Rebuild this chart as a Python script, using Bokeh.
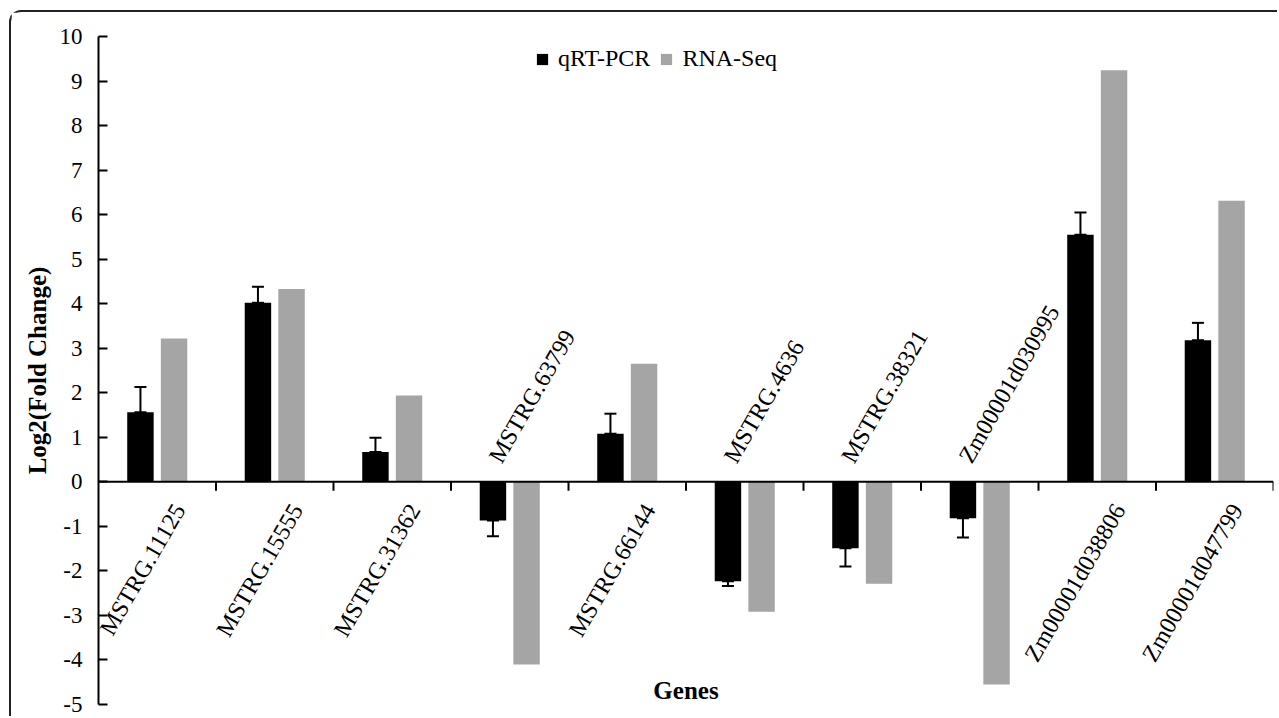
import math
from bokeh.plotting import figure
from bokeh.models import (Range1d, FixedTicker, Span, Whisker, TeeHead, ColumnDataSource,
                          Legend, LegendItem, Label)
from bokeh.embed import file_html
from bokeh.resources import INLINE

# ---- data ----
genes = ["MSTRG.11125", "MSTRG.15555", "MSTRG.31362", "MSTRG.63799", "MSTRG.66144",
         "MSTRG.4636", "MSTRG.38321", "Zm00001d030995", "Zm00001d038806", "Zm00001d047799"]
qrt = [1.56, 4.02, 0.67, -0.87, 1.08, -2.23, -1.49, -0.82, 5.55, 3.18]
qrt_err = [0.57, 0.36, 0.32, 0.35, 0.45, 0.11, 0.41, 0.43, 0.50, 0.39]
rnaseq = [3.22, 4.33, 1.94, -4.10, 2.65, -2.92, -2.29, -4.55, 9.24, 6.31]
y_ticks = list(range(-5, 11))
y_tick_labels = [str(t) for t in y_ticks]
series_names = ["qRT-PCR", "RNA-Seq"]
x_title = "Genes"
y_title = "Log2(Fold Change)"

FONT = "Liberation Serif"
GRAY = "#a5a5a5"
n = len(genes)
centers = [i + 0.5 for i in range(n)]
off = 0.143
bw = 0.225

p = figure(width=1268, height=706, output_backend="svg", toolbar_location=None,
           x_range=Range1d(0, n), y_range=Range1d(-5, 10),
           x_axis_location=None,
           min_border_left=87, min_border_top=24, min_border_bottom=14, min_border_right=6)
p.styles = {"border-top": "2px solid #222222", "border-left": "2px solid #222222",
            "border-top-left-radius": "12px", "margin-top": "10px", "margin-left": "9px"}
p.outline_line_color = None
p.xgrid.visible = False
p.ygrid.visible = False
p.background_fill_color = "white"

src = ColumnDataSource(dict(
    xq=[c - off for c in centers], xr=[c + off for c in centers],
    qrt=qrt, rna=rnaseq,
    up=[v + e if v >= 0 else v for v, e in zip(qrt, qrt_err)],
    lo=[v if v >= 0 else v - e for v, e in zip(qrt, qrt_err)],
))

r1 = p.vbar(x="xq", top="qrt", bottom=0, width=bw, source=src, fill_color="black", line_color=None)
r2 = p.vbar(x="xr", top="rna", bottom=0, width=bw, source=src, fill_color=GRAY, line_color=None)

wh = Whisker(source=src, base="xq", upper="up", lower="lo", line_width=2, line_color="black",
             upper_head=TeeHead(size=12, line_width=2, line_color="black"),
             lower_head=TeeHead(size=12, line_width=2, line_color="black"))
p.add_layout(wh)

# zero axis line + category ticks
p.add_layout(Span(location=0, dimension="width", line_color="black", line_width=2))
p.segment(x0=list(range(1, n + 1)), y0=[0] * n, x1=list(range(1, n + 1)), y1=[-0.2] * n,
          line_color="black", line_width=2)

# category labels
pos_idx = [i for i in range(n) if qrt[i] >= 0]
neg_idx = [i for i in range(n) if qrt[i] < 0]
p.text(x=[centers[i] for i in pos_idx], y=[0] * len(pos_idx), text=[genes[i] for i in pos_idx],
       angle=math.radians(60), text_align="right", text_baseline="middle",
       x_offset=22, y_offset=24, text_font={"value": FONT}, text_font_size="24px", text_color="black")
p.text(x=[centers[i] for i in neg_idx], y=[0] * len(neg_idx), text=[genes[i] for i in neg_idx],
       angle=math.radians(60), text_align="left", text_baseline="middle",
       x_offset=-15, y_offset=-21, text_font={"value": FONT}, text_font_size="24px", text_color="black")

# y axis
ax = p.yaxis[0]
ax.ticker = FixedTicker(ticks=y_ticks)
ax.major_label_overrides = dict(zip(y_ticks, y_tick_labels))
ax.major_tick_in = 9
ax.major_tick_out = 0
ax.minor_tick_line_color = None
ax.axis_line_width = 2
ax.major_tick_line_width = 2
ax.axis_line_color = "black"
ax.major_tick_line_color = "black"
ax.major_label_text_font = FONT
ax.major_label_text_font_size = "23px"
ax.major_label_text_color = "black"
ax.major_label_standoff = 16
ax.axis_label = y_title
ax.axis_label_text_font = FONT
ax.axis_label_text_font_style = "bold"
ax.axis_label_text_font_size = "25px"
ax.axis_label_text_color = "black"
ax.axis_label_standoff = 6

p.add_layout(Label(x=n / 2, y=-4.68, text=x_title, text_align="center", text_baseline="middle",
                   text_font=FONT, text_font_style="bold", text_font_size="25px", text_color="black"))

legend = Legend(items=[LegendItem(label=series_names[0], renderers=[r1]),
                       LegendItem(label=series_names[1], renderers=[r2])],
                orientation="horizontal", location=(437, 632),
                label_text_font=FONT, label_text_font_size="24px", label_text_color="black",
                border_line_color=None, background_fill_alpha=0, padding=0, margin=0,
                spacing=9, label_standoff=9, glyph_width=14, glyph_height=14, label_height=14)
p.add_layout(legend)

open("out.html", "w").write(file_html(p, INLINE))
